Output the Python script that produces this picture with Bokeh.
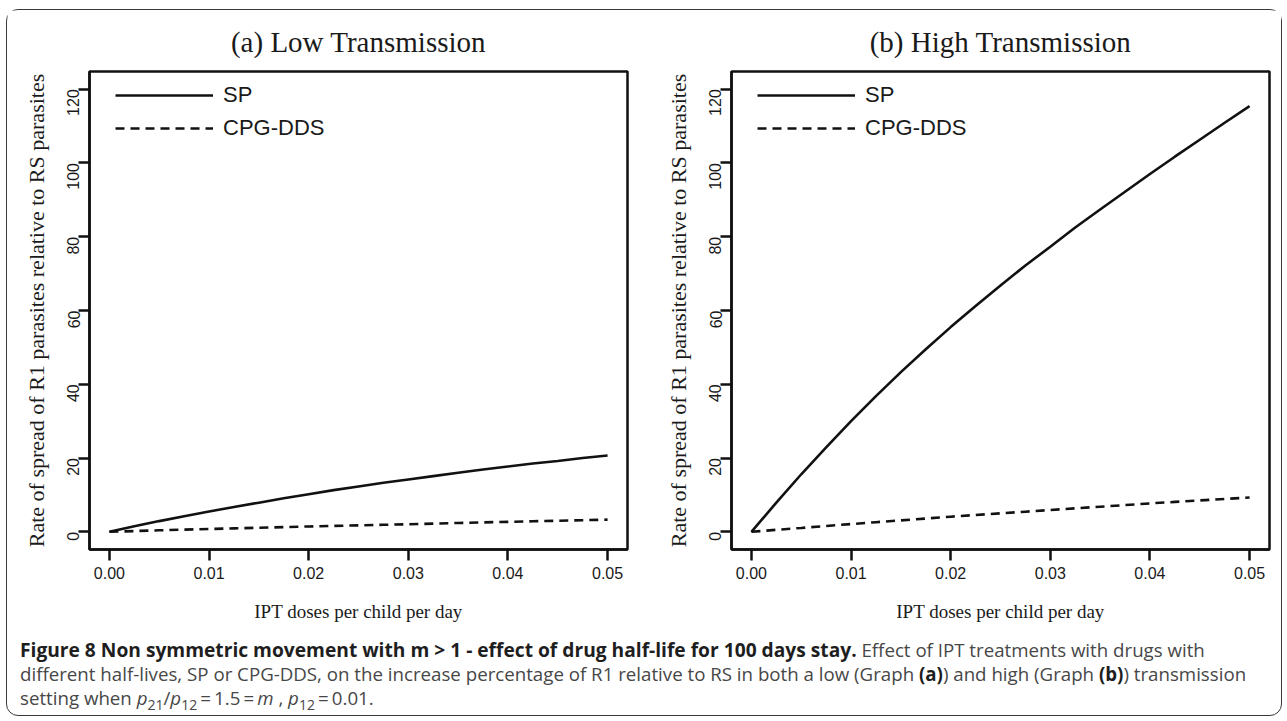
import math
from bokeh.plotting import figure
from bokeh.models import (Range1d, FixedTicker, NumeralTickFormatter, Legend, LegendItem, Div)
from bokeh.layouts import row, column
from bokeh.embed import file_html
from bokeh.resources import INLINE

# ---------------- data ----------------
doses = [0.0, 0.0025, 0.005, 0.0075, 0.01, 0.0125, 0.015, 0.0175, 0.02, 0.0225, 0.025,
         0.0275, 0.03, 0.0325, 0.035, 0.0375, 0.04, 0.0425, 0.045, 0.0475, 0.05]

low_sp = [0.0, 1.5, 2.9, 4.2, 5.5, 6.7, 7.9, 9.1, 10.2, 11.3, 12.3,
          13.3, 14.2, 15.1, 16.0, 16.9, 17.7, 18.5, 19.2, 20.0, 20.7]
low_cpg = [0.0, 0.2, 0.4, 0.58, 0.75, 0.93, 1.1, 1.28, 1.45, 1.6, 1.75,
           1.9, 2.05, 2.22, 2.4, 2.55, 2.7, 2.85, 3.0, 3.15, 3.3]

high_sp = [0.0, 7.9, 15.6, 22.9, 30.0, 36.8, 43.3, 49.5, 55.5, 61.2, 66.8,
           72.2, 77.3, 82.5, 87.4, 92.2, 97.0, 101.7, 106.3, 110.9, 115.4]
high_cpg = [0.0, 0.53, 1.05, 1.58, 2.1, 2.6, 3.1, 3.6, 4.1, 4.55, 5.0,
            5.45, 5.9, 6.35, 6.8, 7.25, 7.7, 8.1, 8.5, 8.9, 9.3]

x_ticks = [0.0, 0.01, 0.02, 0.03, 0.04, 0.05]
y_ticks = [0, 20, 40, 60, 80, 100, 120]

series_names = ["SP", "CPG-DDS"]
panel_titles = ["(a) Low Transmission", "(b) High Transmission"]
x_title = "IPT doses per child per day"
y_title = "Rate of spread of R1 parasites relative to RS parasites"

SERIF = "Liberation Serif"
SANS = "Liberation Sans"
INK = "#111111"


def make_panel(title, sp, cpg, width, border_left, border_right):
    p = figure(width=width, height=628, output_backend="svg", toolbar_location=None,
               x_range=Range1d(-0.002, 0.052), y_range=Range1d(-4.8, 124.8),
               min_border_left=border_left, min_border_right=border_right,
               min_border_top=61, min_border_bottom=89)
    p.title.text = title
    p.title.align = "center"
    p.title.text_font = SERIF
    p.title.text_font_size = "29px"
    p.title.text_font_style = "normal"
    p.title.text_color = "#1a1a1a"
    p.title.standoff = 27

    p.grid.visible = False
    p.outline_line_color = INK
    p.outline_line_width = 2.5
    p.outline_line_alpha = 1.0
    p.background_fill_color = "white"
    p.border_fill_color = "white"

    for ax in (p.xaxis[0], p.yaxis[0]):
        ax.axis_line_color = INK
        ax.axis_line_width = 2.5
        ax.major_tick_line_color = INK
        ax.major_tick_line_width = 2.5
        ax.major_tick_out = 11
        ax.major_tick_in = 0
        ax.minor_tick_line_color = None
        ax.major_label_text_font = SANS
        ax.major_label_text_font_size = "16px"
        ax.major_label_text_color = "#1a1a1a"
        ax.axis_label_text_font = SERIF
        ax.axis_label_text_font_style = "normal"
        ax.axis_label_text_color = "#1a1a1a"

    p.xaxis.ticker = FixedTicker(ticks=x_ticks)
    p.xaxis.formatter = NumeralTickFormatter(format="0.00")
    p.xaxis.axis_label = x_title
    p.xaxis.axis_label_text_font_size = "19px"
    p.xaxis.major_label_standoff = 6
    p.xaxis.axis_label_standoff = 19

    p.yaxis.ticker = FixedTicker(ticks=y_ticks)
    p.yaxis.axis_label = y_title
    p.yaxis.axis_label_text_font_size = "22px"
    p.yaxis.major_label_orientation = math.pi / 2
    p.yaxis.major_label_standoff = 5
    p.yaxis.axis_label_standoff = 10

    r_sp = p.line(doses, sp, line_color=INK, line_width=2.6)
    r_cpg = p.line(doses, cpg, line_color=INK, line_width=2.6, line_dash="9 6")

    legend = Legend(items=[LegendItem(label=series_names[0], renderers=[r_sp]),
                           LegendItem(label=series_names[1], renderers=[r_cpg])],
                    location=(26, 408), orientation="vertical",
                    glyph_width=98, glyph_height=20, label_height=20,
                    label_standoff=10, spacing=7, padding=0, margin=0,
                    border_line_alpha=0, background_fill_alpha=0,
                    label_text_font=SANS, label_text_font_size="22px",
                    label_text_color="#1a1a1a")
    p.add_layout(legend, "center")
    return p


p1 = make_panel(panel_titles[0], low_sp, low_cpg, 640, 82, 20)
p2 = make_panel(panel_titles[1], high_sp, high_cpg, 634, 84, 12)

caption_html = (
    '<div style="font-family:\'Open Sans\',sans-serif;font-size:18.7px;line-height:24px;'
    'color:#474747;padding-left:13px;white-space:nowrap;">'
    '<b style="color:#1e1e1e;font-size:19.2px;">Figure 8 Non symmetric movement with m &gt; 1 - effect of drug '
    'half-life for 100 days stay.</b> Effect of IPT treatments with drugs with<br>'
    'different half-lives, SP or CPG-DDS, on the increase percentage of R1 relative to RS in '
    'both a low (Graph <b style="color:#1e1e1e;">(a)</b>) and high (Graph '
    '<b style="color:#1e1e1e;">(b)</b>) transmission<br>'
    'setting when <i>p</i><sub style="font-size:75%;line-height:0;">21</sub>/<i>p</i>'
    '<sub style="font-size:75%;line-height:0;">12</sub>&#8201;=&#8201;1.5&#8201;=&#8201;<i>m</i> , '
    '<i>p</i><sub style="font-size:75%;line-height:0;">12</sub>&#8201;=&#8201;0.01.'
    '</div>'
)
caption = Div(text=caption_html, width=1274, height=77, margin=0)

layout = column(row(p1, p2), caption,
                styles={"border": "1.5px solid #3a3a3a", "border-radius": "12px",
                        "background": "white", "margin-left": "6px", "margin-top": "9px"})

open("out.html", "w").write(file_html(layout, INLINE))
